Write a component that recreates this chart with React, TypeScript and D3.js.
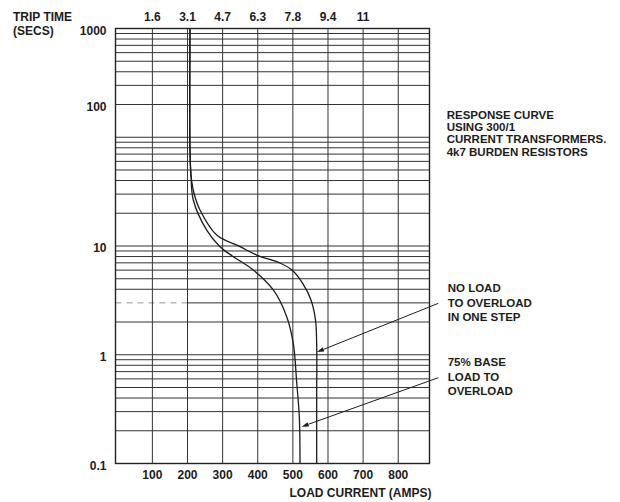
import React from "react";
import * as d3 from "d3";

// ---- data ----
const xTickValues = [100, 200, 300, 400, 500, 600, 700, 800];
const xTickLabels = ["100", "200", "300", "400", "500", "600", "700", "800"];
const topTickValues = [100, 200, 300, 400, 500, 600, 700];
const topTickLabels = ["1.6", "3.1", "4.7", "6.3", "7.8", "9.4", "11"];
const yLabelTexts = ["1000", "100", "10", "1", "0.1"];
const yLabelAt = [1000, 200, 10, 1, 0.1];

// no load to overload in one step
const noLoadAmps = [207.1, 207.1, 209.9, 218.4, 235.6, 283.1, 349.5, 397, 463.3, 497.5, 528.8, 551.6, 564.4, 567.8, 567.8, 567.8];
const noLoadSecs = [1000, 76.4, 45, 30.7, 21.4, 12.6, 9.86, 8.26, 6.98, 6.01, 4.48, 3.19, 2.09, 1.23, 0.384, 0.1];
// 75% base load to overload
const baseAmps = [207.1, 207.1, 209.9, 216.5, 254.7, 292.5, 330.4, 387.3, 444.3, 482.4, 501.2, 511, 518.3, 520.3];
const baseSecs = [1000, 76.4, 45, 26.5, 14.0, 9.86, 7.98, 6.01, 3.94, 2.24, 1.27, 0.55, 0.27, 0.1];

const noteLines = ["RESPONSE CURVE", "USING 300/1", "CURRENT TRANSFORMERS.", "4k7 BURDEN RESISTORS"];
const noLoadLines = ["NO LOAD", "TO OVERLOAD", "IN ONE STEP"];
const baseLines = ["75% BASE", "LOAD TO", "OVERLOAD"];
// arrow [tailAmps, tailSecs, tipAmps, tipSecs]
const noLoadArrow = [914, 2.97, 568.7, 1.06];
const baseArrow = [914, 0.615, 525, 0.218];

const W = 620, H = 502;
const FL = 115.5, FR = 429.5, FT = 28.5, FB = 463.5;
const font = "'Liberation Sans', Arial, Helvetica, sans-serif";
const ink = "#1c1c1c";

export default function App() {
  const x = d3.scaleLinear().domain([-5, 889]).range([FL, FR]);
  const y = d3.scaleLog().domain([0.1, 1000]).range([FB, FT]);

  const hLines: number[] = [];
  for (let d = -1; d <= 2; d++) {
    for (let k = 1; k <= 9; k++) hLines.push(k * Math.pow(10, d));
  }

  const line = d3
    .line<[number, number]>()
    .x((p) => x(p[0]))
    .y((p) => y(p[1]))
    .curve(d3.curveCatmullRom.alpha(0.5));

  const noLoadPts = noLoadAmps.map((a, i) => [a, noLoadSecs[i]] as [number, number]);
  const basePts = baseAmps.map((a, i) => [a, baseSecs[i]] as [number, number]);

  const arrow = (a: number[], key: string) => {
    const x1 = x(a[0]), y1 = y(a[1]), x2 = x(a[2]), y2 = y(a[3]);
    const ang = Math.atan2(y2 - y1, x2 - x1);
    const L = 7, w = 2.2;
    const bx = x2 - L * Math.cos(ang), by = y2 - L * Math.sin(ang);
    const px = -Math.sin(ang) * w, py = Math.cos(ang) * w;
    return (
      <g key={key}>
        <line x1={x1} y1={y1} x2={bx} y2={by} stroke={ink} strokeWidth={1} />
        <path d={`M${x2},${y2}L${bx + px},${by + py}L${bx - px},${by - py}Z`} fill={ink} />
      </g>
    );
  };

  const textBlock = (lines: string[], x0: number, y0: number, step: number, key: string) => (
    <g key={key}>
      {lines.map((t, i) => (
        <text key={i} x={x0} y={y0 + i * step} dy="0.35em" fontSize={11.5} fontWeight="bold" fill={ink} fontFamily={font}>
          {t}
        </text>
      ))}
    </g>
  );

  return (
    <svg width={W} height={H} style={{ position: "absolute", left: 0, top: 0, background: "#fff" }}>
      {/* horizontal grid */}
      {hLines.map((v, i) =>
        v === 3 ? (
          <g key={"h" + i}>
            <line x1={FL} x2={x(200)} y1={y(v)} y2={y(v)} stroke="#888" strokeWidth={0.9} strokeDasharray="6,5" />
            <line x1={x(200)} x2={FR} y1={y(v)} y2={y(v)} stroke="#333" strokeWidth={1} />
          </g>
        ) : (
          <line key={"h" + i} x1={FL} x2={FR} y1={y(v)} y2={y(v)} stroke="#333" strokeWidth={1} />
        )
      )}
      {/* vertical grid */}
      {xTickValues.map((v) => (
        <line key={"v" + v} x1={x(v)} x2={x(v)} y1={FT} y2={FB} stroke="#333" strokeWidth={1} />
      ))}
      <rect x={FL} y={FT} width={FR - FL} height={FB - FT} fill="none" stroke="#222" strokeWidth={1.4} />

      {/* curves */}
      <path d={line(noLoadPts) || ""} fill="none" stroke={ink} strokeWidth={1.3} />
      <path d={line(basePts) || ""} fill="none" stroke={ink} strokeWidth={1.3} />

      {/* axis labels */}
      <g fontFamily={font} fontWeight="bold" fontSize={12} fill={ink}>
        <text x={13} y={16.7} dy="0.35em">TRIP TIME</text>
        <text x={13} y={31} dy="0.35em">(SECS)</text>
        {yLabelTexts.map((t, i) => (
          <text key={t} x={106.5} y={y(yLabelAt[i]) + 2} dy="0.35em" textAnchor="end">
            {t}
          </text>
        ))}
        {topTickLabels.map((t, i) => (
          <text key={t} x={x(topTickValues[i])} y={16.7} dy="0.35em" textAnchor="middle">
            {t}
          </text>
        ))}
        {xTickLabels.map((t, i) => (
          <text key={t} x={x(xTickValues[i])} y={475} dy="0.35em" textAnchor="middle">
            {t}
          </text>
        ))}
        <text x={431.5} y={493} dy="0.35em" textAnchor="end">LOAD CURRENT (AMPS)</text>
      </g>

      {textBlock(noteLines, 446.7, 115, 12.2, "note")}
      {textBlock(noLoadLines, 447.7, 288, 14.5, "nl")}
      {textBlock(baseLines, 447.7, 362, 14.5, "bl")}
      {arrow(noLoadArrow, "a1")}
      {arrow(baseArrow, "a2")}
    </svg>
  );
}
